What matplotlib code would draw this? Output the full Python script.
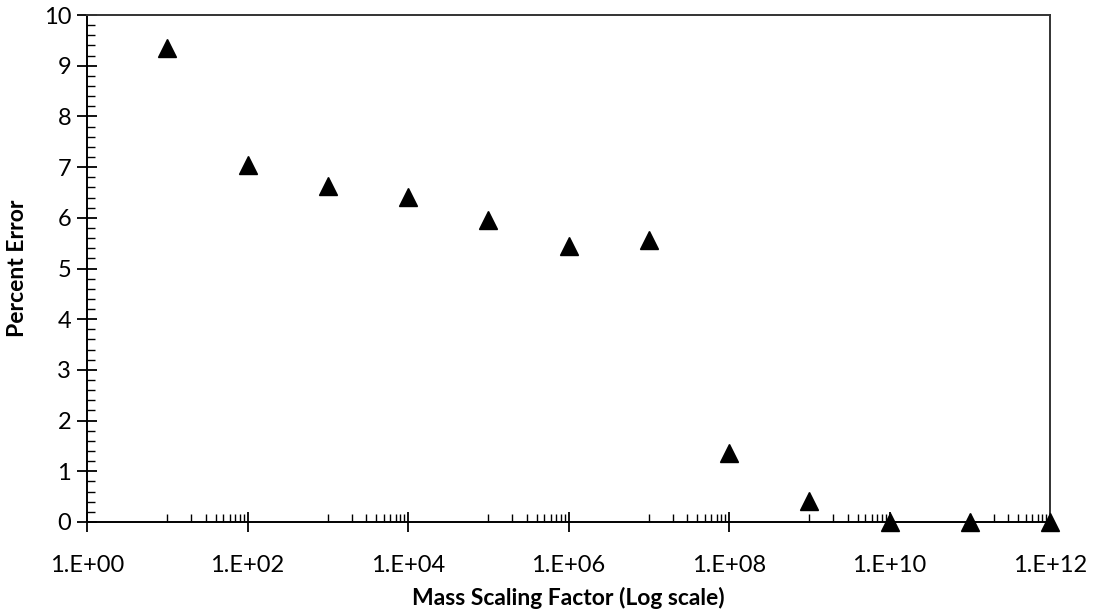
import numpy as np
import matplotlib
matplotlib.use("Agg")
import matplotlib.pyplot as plt
from matplotlib.ticker import FixedLocator, MultipleLocator, FuncFormatter, NullFormatter

# Mass scaling factor vs. percent error
scaling_factor = [1e1, 1e2, 1e3, 1e4, 1e5, 1e6, 1e7, 1e8, 1e9, 1e10, 1e11, 1e12]
percent_error = [9.34, 7.04, 6.63, 6.41, 5.96, 5.44, 5.56, 1.36, 0.41, 0.0, 0.0, 0.0]

x_major = [1e0, 1e2, 1e4, 1e6, 1e8, 1e10, 1e12]
# minor ticks sit in the odd decades only (10^1..10^2, 10^3..10^4, ...)
x_minor = [k * 10.0 ** d for d in (1, 3, 5, 7, 9, 11) for k in range(1, 10)]

plt.rcParams["font.family"] = ["Lato", "DejaVu Sans"]

fig = plt.figure(figsize=(10.96, 6.15), dpi=100)
ax = fig.add_axes([87 / 1096, 1 - 522 / 615, (1050 - 87) / 1096, (522 - 15) / 615])

ax.plot(scaling_factor, percent_error, linestyle="none", marker="^",
        markersize=12.5, color="black", clip_on=False, zorder=5)

ax.set_xscale("log")
ax.set_xlim(1e0, 1e12)
ax.set_ylim(0, 10)

ax.xaxis.set_major_locator(FixedLocator(x_major))
ax.xaxis.set_minor_locator(FixedLocator(x_minor))
ax.xaxis.set_major_formatter(FuncFormatter(lambda v, p: "1.E+%02d" % round(np.log10(v))))
ax.xaxis.set_minor_formatter(NullFormatter())

ax.yaxis.set_major_locator(MultipleLocator(1))
ax.yaxis.set_minor_locator(MultipleLocator(0.2))

ax.tick_params(axis="both", which="major", direction="inout", length=15, width=1.3,
               labelsize=17, color="black")
ax.tick_params(axis="x", which="major", pad=16)
ax.tick_params(axis="y", which="major", pad=4)
ax.tick_params(axis="both", which="minor", direction="in", length=6, width=1.0)
ax.tick_params(top=False, right=False, which="both")

for side in ["left", "bottom", "top", "right"]:
    ax.spines[side].set_linewidth(1.4)
ax.spines["top"].set_color("#333333")
ax.spines["right"].set_color("#333333")

ax.set_xlabel("Mass Scaling Factor (Log scale)", fontsize=16.5, fontweight="bold")
ax.set_ylabel("Percent Error", fontsize=16.5, fontweight="bold")
ax.xaxis.set_label_coords(0.5, -0.15)
ax.yaxis.set_label_coords(-0.072, 0.5)
ax.xaxis.label.set_va("center")
ax.yaxis.label.set_va("center")

fig.savefig("out.png", dpi=100)
